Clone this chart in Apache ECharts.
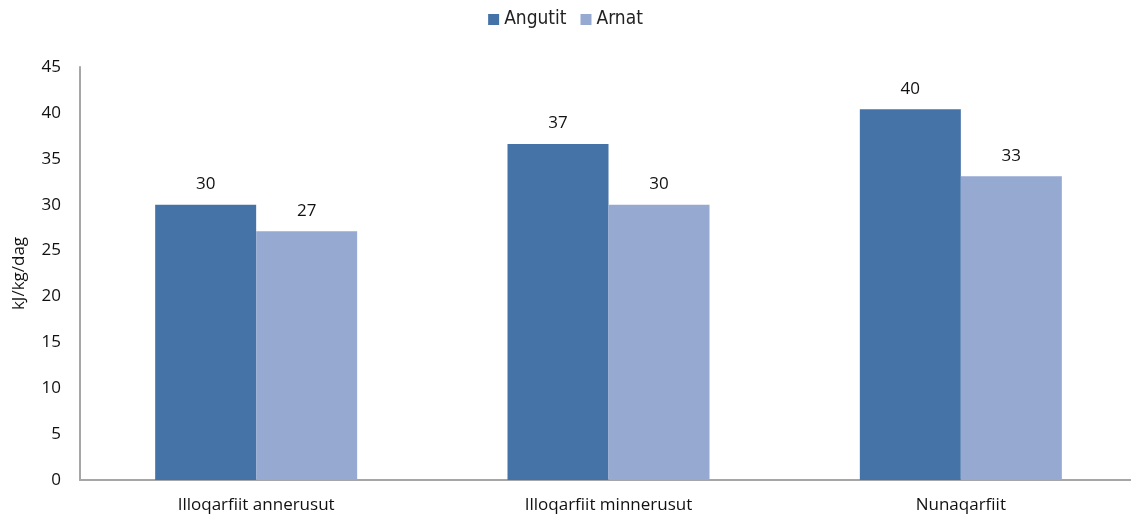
<!DOCTYPE html>
<html>
<head>
<meta charset="utf-8">
<script src="https://cdn.jsdelivr.net/npm/echarts@6/dist/echarts.min.js"></script>
<style>
  html, body { margin: 0; padding: 0; background: #fff; }
  #chart { width: 1131px; height: 522px; }
</style>
</head>
<body>
<div id="chart"></div>
<script>
// data
const categories = ['Illoqarfiit annerusut', 'Illoqarfiit minnerusut', 'Nunaqarfiit']
const angutit = [30, 36.6, 40.4]
const arnat = [27.1, 30, 33.1]
const yTicks = [0, 5, 10, 15, 20, 25, 30, 35, 40, 45]

const font = "'Open Sans', 'Noto Sans', sans-serif"

const chart = echarts.init(document.getElementById('chart'))
chart.setOption({
  animation: false,
  legend: {
    top: 5,
    left: 'center',
    icon: 'rect',
    itemWidth: 11,
    itemHeight: 11,
    itemGap: 14,
    textStyle: { fontFamily: "'Liberation Sans Narrow', 'DejaVu Sans Condensed', 'Open Sans', sans-serif", fontSize: 19, color: '#222' },
    data: ['Angutit', 'Arnat']
  },
  grid: { left: 80, width: 1057, top: 67, bottom: 42, outerBoundsMode: 'none' },
  xAxis: {
    type: 'category',
    data: categories,
    axisLine: { lineStyle: { color: '#a6a6a6', width: 2 } },
    axisTick: { show: false },
    axisLabel: { fontFamily: font, fontSize: 17, color: '#111', margin: 17 }
  },
  yAxis: {
    type: 'value',
    min: yTicks[0],
    max: yTicks[yTicks.length - 1],
    interval: 5,
    name: 'kJ/kg/dag',
    nameLocation: 'middle',
    nameGap: 52,
    nameTextStyle: { fontFamily: font, fontSize: 17, color: '#111' },
    splitLine: { show: false },
    axisLine: { show: true, lineStyle: { color: '#a6a6a6', width: 2 } },
    axisTick: { show: false },
    axisLabel: { fontFamily: font, fontSize: 17, color: '#111', margin: 19 }
  },
  series: [
    {
      name: 'Angutit',
      type: 'bar',
      data: angutit,
      barWidth: 101,
      barGap: '0%',
      itemStyle: { color: '#4573a7' },
      label: {
        show: true, position: 'top', distance: 12,
        fontFamily: font, fontSize: 17, color: '#111',
        formatter: p => Math.round(p.value)
      }
    },
    {
      name: 'Arnat',
      type: 'bar',
      data: arnat,
      barWidth: 101,
      barGap: '0%',
      itemStyle: { color: '#95a9d1' },
      label: {
        show: true, position: 'top', distance: 12,
        fontFamily: font, fontSize: 17, color: '#111',
        formatter: p => Math.round(p.value)
      }
    }
  ]
})
</script>
</body>
</html>
